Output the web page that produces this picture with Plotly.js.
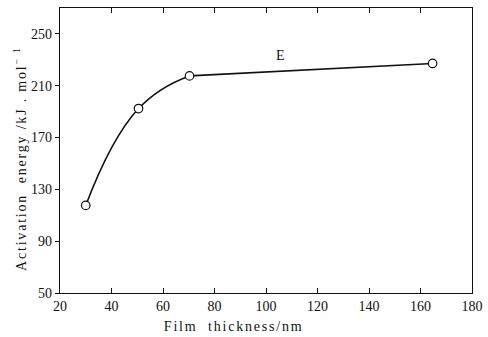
<!DOCTYPE html>
<html><head><meta charset="utf-8">
<script src="https://cdn.plot.ly/plotly-3.0.1.min.js"></script>
<style>body{margin:0;background:#fff}#c{width:488px;height:337px}</style>
</head><body><div id="c"></div>
<script>
const thickness = [30, 50.5, 70.3, 164.7];
const energy = [117.6, 192.4, 217.6, 227.2];
const xTicks = [20, 40, 60, 80, 100, 120, 140, 160, 180];
const yTicks = [50, 90, 130, 170, 210, 250];
const curveLabel = 'E';
const xTitle = 'Film  thickness/nm';
const yTitle = 'Activation  energy /kJ . mol<sup>− 1</sup>';

const font = {family: 'Liberation Serif, Times New Roman, serif', color: '#111'};
const traces = [
  {x: thickness.slice(0, 3), y: energy.slice(0, 3), mode: 'lines', line: {shape: 'spline', smoothing: 1.3, color: '#111', width: 1.6}, hoverinfo: 'none'},
  {x: thickness.slice(2), y: energy.slice(2), mode: 'lines', line: {color: '#111', width: 1.6}, hoverinfo: 'none'},
  {x: thickness, y: energy, mode: 'markers', marker: {symbol: 'circle', size: 8.5, color: '#fff', line: {color: '#111', width: 1.2}}, hoverinfo: 'none'}
];
const layout = {
  width: 488, height: 337,
  margin: {l: 60, r: 16, t: 8, b: 44},
  paper_bgcolor: '#fff', plot_bgcolor: '#fff',
  showlegend: false,
  font: Object.assign({size: 14}, font),
  xaxis: {range: [20, 180], tickvals: xTicks, ticktext: xTicks.map(String), ticks: 'inside', ticklen: 5, tickcolor: '#111',
    showline: true, linecolor: '#111', linewidth: 1.2, mirror: 'ticks', showgrid: false, zeroline: false},
  yaxis: {range: [50, 270], tickvals: yTicks, ticktext: yTicks.map(String), ticks: 'outside', ticklen: 4, tickcolor: '#111',
    showline: true, linecolor: '#111', linewidth: 1.2, mirror: true, showgrid: false, zeroline: false},
  annotations: [
    {x: 105.8, y: 233.5, text: curveLabel, showarrow: false, font: Object.assign({size: 14}, font)},
    {xref: 'paper', yref: 'paper', x: 0.42, y: -0.118, xanchor: 'center', yanchor: 'middle', text: xTitle, showarrow: false, font: Object.assign({size: 14}, font)},
    {xref: 'paper', yref: 'paper', x: -0.097, y: 0.47, xanchor: 'center', yanchor: 'middle', textangle: -90, text: yTitle, showarrow: false, font: Object.assign({size: 14}, font)}
  ]
};
Plotly.newPlot('c', traces, layout, {staticPlot: true}).then(function () {
  const notes = document.querySelectorAll('.annotation-text');
  for (let i = 1; i < notes.length; i++) notes[i].style.letterSpacing = '1.8px';
});
</script></body></html>
